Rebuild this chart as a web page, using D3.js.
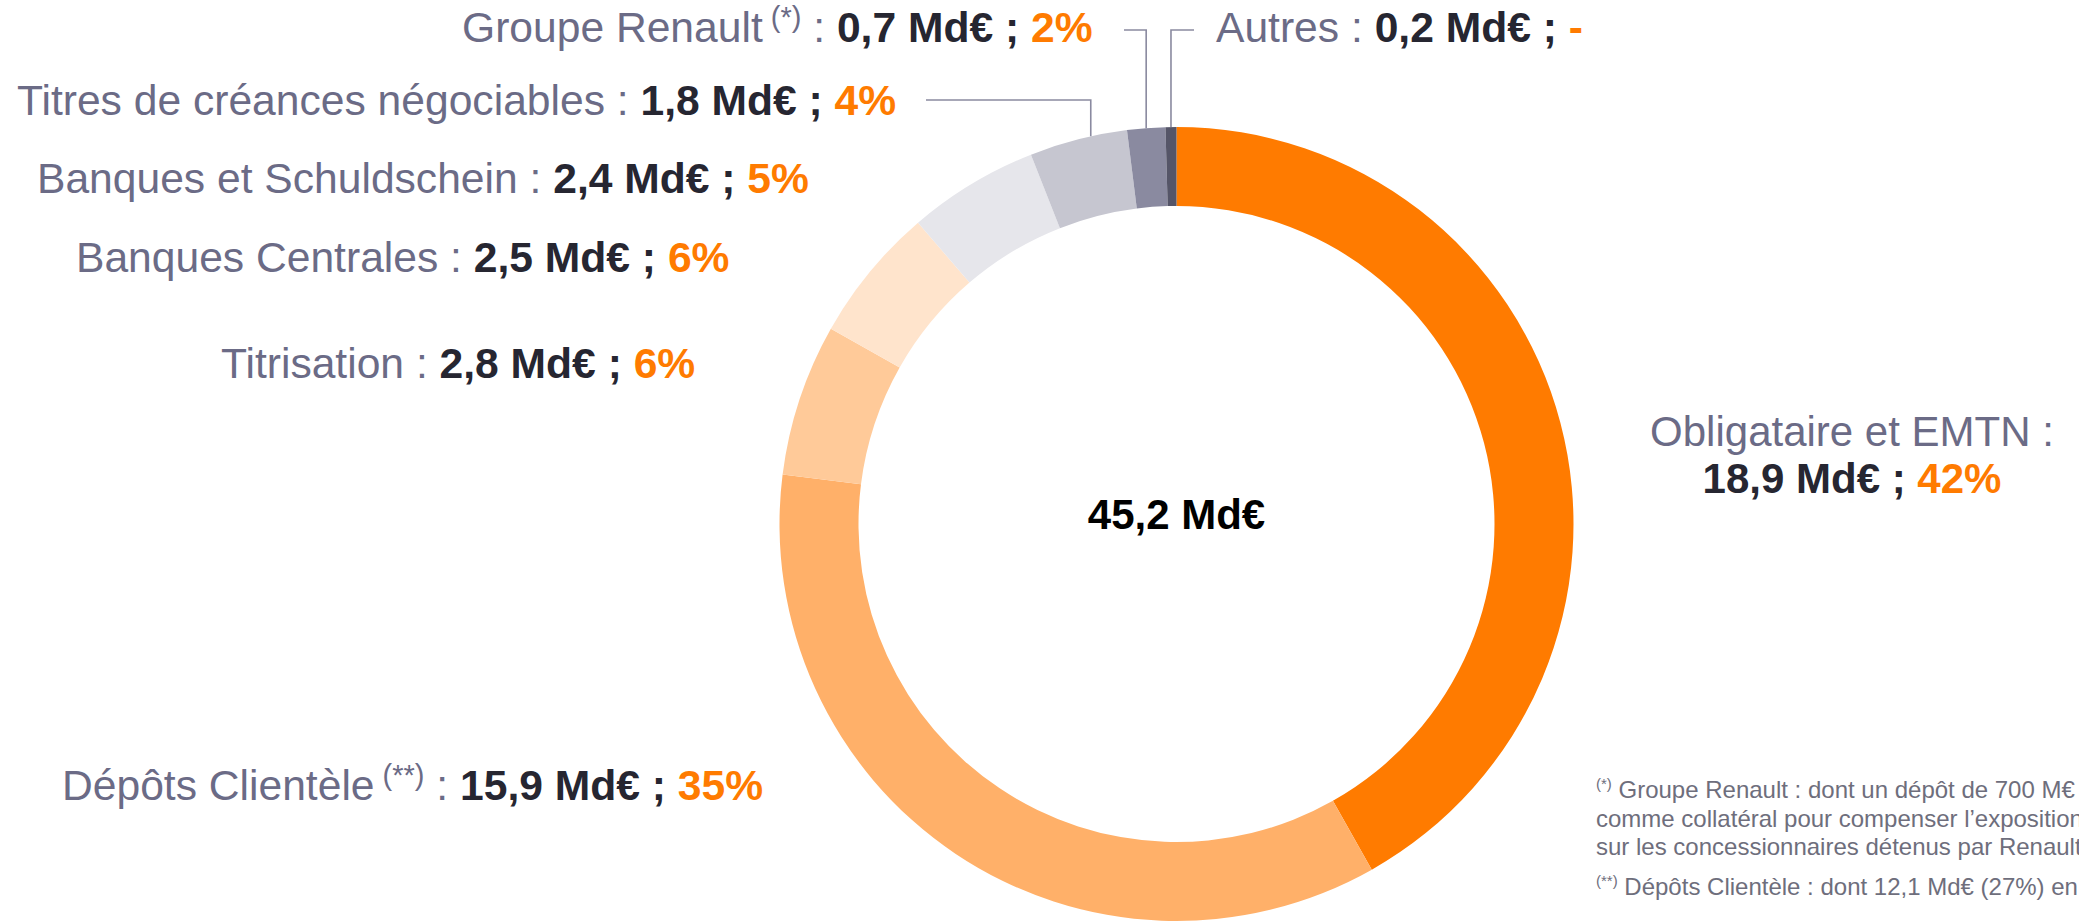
<!DOCTYPE html>
<html>
<head>
<meta charset="utf-8">
<script src="https://cdn.jsdelivr.net/npm/d3@7"></script>
<style>
  body { margin: 0; background: #fff; overflow: hidden; }
  text { font-family: "Liberation Sans", Arial, sans-serif; white-space: pre; }
</style>
</head>
<body>
<div id="chart"></div>
<script>
var width = 2079;
var height = 923;

// data, clockwise from 12 o'clock
var categories = ["Obligataire et EMTN", "Dépôts Clientèle", "Titrisation", "Banques Centrales",
  "Banques et Schuldschein", "Titres de créances négociables", "Groupe Renault", "Autres"];
var amounts = [18.9, 15.9, 2.8, 2.5, 2.4, 1.8, 0.7, 0.2];
var shares = ["42%", "35%", "6%", "6%", "5%", "4%", "2%", "-"];
var notes = ["", "(**)", "", "", "", "", "(*)", ""];
var colors = ["#ff7b00", "#ffb069", "#ffca99", "#ffe4cc", "#e6e6eb", "#c6c6d0", "#8a8aa0", "#555568"];
var totalLabel = 45.2;
var footnotes = [
  ["(*)", " Groupe Renault : dont un dépôt de 700 M€"],
  ["", "comme collatéral pour compenser l’exposition"],
  ["", "sur les concessionnaires détenus par Renault"],
  ["(**)", " Dépôts Clientèle : dont 12,1 Md€ (27%) en"]
];

// layout of the labels (left x or centre x, baseline y)
var labelPos = [
  {x: 1852, y: 446, anchor: "middle", split: true},
  {x: 62, y: 800},
  {x: 221, y: 378},
  {x: 76, y: 272},
  {x: 37, y: 193},
  {x: 17, y: 115},
  {x: 462, y: 42},
  {x: 1216, y: 42}
];
// leader lines: slice index, position along slice, elbow height, end of horizontal stroke
var leaders = [
  {i: 5, t: 0.63, y: 100, x2: 926},
  {i: 6, t: 0.5, y: 30, x2: 1124},
  {i: 7, t: 0.5, y: 30, x2: 1194}
];

var cx = 1176.5, cy = 524;
var outerR = 397, innerR = 318;

var fr = d3.formatLocale({decimal: ",", thousands: " ", grouping: [3], currency: ["", "€"]});
var fmt = fr.format(".1f");

var labelGrey = "#6b6b86";
var valueDark = "#262631";
var orange = "#ff7b00";

var svg = d3.select("#chart").append("svg")
  .attr("width", width)
  .attr("height", height);

var pie = d3.pie().sort(null).value(d => d);
var arcs = pie(amounts);
var arc = d3.arc().innerRadius(innerR).outerRadius(outerR);

var ring = svg.append("g").attr("transform", `translate(${cx},${cy})`);
ring.selectAll("path").data(arcs).enter().append("path")
  .attr("d", arc)
  .attr("fill", (d, i) => colors[i]);

ring.append("text")
  .attr("text-anchor", "middle")
  .attr("y", 5)
  .style("font-size", "42px")
  .style("font-weight", "bold")
  .attr("fill", "#000")
  .text(fmt(totalLabel) + " Md€");

// leader lines
leaders.forEach(function (l) {
  var a = arcs[l.i];
  var ang = a.startAngle + (a.endAngle - a.startAngle) * l.t;
  var px = cx + outerR * Math.sin(ang);
  var py = cy - outerR * Math.cos(ang);
  svg.append("path")
    .attr("d", `M${l.x2},${l.y}H${px}V${py}`)
    .attr("fill", "none")
    .attr("stroke", "#8a8aa0")
    .attr("stroke-width", 1.6);
});

// slice labels
categories.forEach(function (c, i) {
  var p = labelPos[i];
  var t = svg.append("text")
    .attr("x", p.x)
    .attr("y", p.y)
    .attr("text-anchor", p.anchor || "start")
    .style("font-size", p.split ? "42px" : "42.6px");
  t.append("tspan").attr("fill", labelGrey).text(c);
  if (notes[i]) {
    t.append("tspan").attr("fill", labelGrey).style("font-size", "29px").attr("dy", -15).text(" " + notes[i]);
    t.append("tspan").attr("fill", labelGrey).attr("dy", 15).text(" : ");
  } else {
    t.append("tspan").attr("fill", labelGrey).text(" :");
    if (!p.split) t.append("tspan").text(" ");
  }
  var line2 = t;
  if (p.split) {
    line2 = svg.append("text")
      .attr("x", p.x)
      .attr("y", p.y + 47)
      .attr("text-anchor", "middle")
      .style("font-size", "42px");
  }
  line2.append("tspan").attr("fill", valueDark).style("font-weight", "bold").text(fmt(amounts[i]) + " Md€ ; ");
  line2.append("tspan").attr("fill", orange).style("font-weight", "bold").text(shares[i]);
});

// footnotes (cut by the right edge, as in the source slide)
var fy = [798, 827, 855, 895];
footnotes.forEach(function (f, i) {
  var t = svg.append("text")
    .attr("x", 1596)
    .attr("y", fy[i])
    .attr("fill", "#6e6e7c")
    .style("font-size", "24px");
  if (f[0]) {
    t.append("tspan").style("font-size", "15px").attr("dy", -9).text(f[0]);
    t.append("tspan").attr("dy", 9).text(f[1]);
  } else {
    t.append("tspan").text(f[1]);
  }
});
</script>
</body>
</html>
